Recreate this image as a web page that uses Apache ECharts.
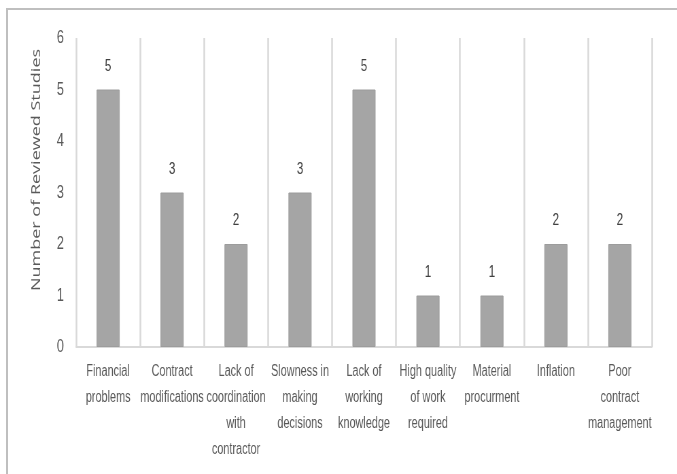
<!DOCTYPE html>
<html><head><meta charset="utf-8">
<script src="https://cdn.jsdelivr.net/npm/echarts@6/dist/echarts.min.js"></script>
<style>
html,body{margin:0;padding:0;background:#fff;overflow:hidden;width:677px;height:474px}
#c{width:996px;height:474px;transform:scaleX(0.6797);transform-origin:0 0}
</style>
</head><body><div id="c"></div>
<script>
const categories = [
  "Financial\nproblems",
  "Contract\nmodifications",
  "Lack of\ncoordination\nwith\ncontractor",
  "Slowness in\nmaking\ndecisions",
  "Lack of\nworking\nknowledge",
  "High quality\nof work\nrequired",
  "Material\nprocurment",
  "Inflation",
  "Poor\ncontract\nmanagement"
];
const values = [5, 3, 2, 3, 5, 1, 1, 2, 2];
const yTicks = [0, 1, 2, 3, 4, 5, 6];
const yTitle = "Number of Reviewed Studies";

const font = "'Liberation Sans', Arial, sans-serif";
const chart = echarts.init(document.getElementById('c'), null, {renderer: 'canvas'});
chart.setOption({
  animation: false,
  grid: {left: 112, right: 37, top: 38, bottom: 127},
  xAxis: {
    type: 'category',
    data: categories,
    axisLine: {show: true, lineStyle: {color: '#d9d9d9', width: 2}},
    axisTick: {show: false},
    splitLine: {show: true, interval: 0, lineStyle: {color: '#d9d9d9', width: 2.5}},
    axisLabel: {interval: 0, color: '#595959', fontFamily: font, fontSize: 16, lineHeight: 26, margin: 12}
  },
  yAxis: {
    type: 'value',
    min: yTicks[0], max: yTicks[yTicks.length - 1], interval: 1,
    axisLine: {show: false},
    axisTick: {show: false},
    splitLine: {show: false},
    axisLabel: {color: '#595959', fontFamily: font, fontSize: 19, margin: 18}
  },
  series: [{
    type: 'bar',
    data: values,
    barWidth: 34,
    itemStyle: {color: '#a5a5a5', borderColor: '#9c9c9c', borderWidth: 1},
    label: {show: true, position: 'top', distance: 15, color: '#404040', fontFamily: font, fontSize: 17}
  }],
  graphic: [
    {type: 'line', shape: {x1: 10.5, y1: 9, x2: 10.5, y2: 480}, style: {stroke: '#bfbfbf', lineWidth: 3}, silent: true},
    {type: 'line', shape: {x1: 9, y1: 9, x2: 1000, y2: 9}, style: {stroke: '#bfbfbf', lineWidth: 2}, silent: true},
    {type: 'text', x: 54, y: 170, rotation: Math.PI / 2,
     style: {text: yTitle, fill: '#595959', font: '18px "Open Sans", sans-serif', align: 'center', verticalAlign: 'middle'}}
  ]
});
</script></body></html>
